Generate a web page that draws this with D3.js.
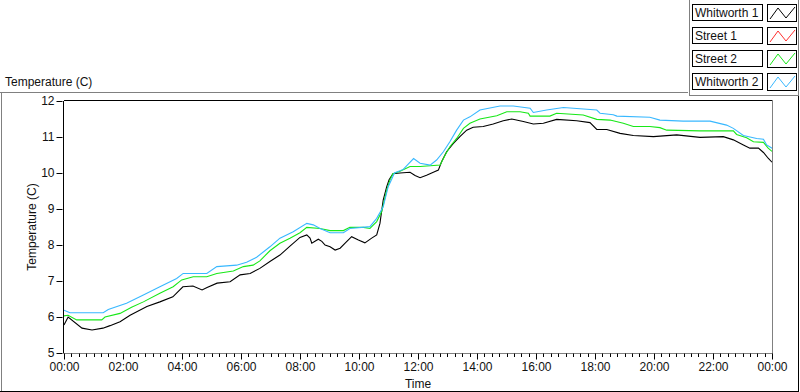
<!DOCTYPE html>
<html>
<head>
<meta charset="utf-8">
<script src="https://cdn.jsdelivr.net/npm/d3@7"></script>
<style>
  body { margin: 0; background: #fff; }
  text { font-family: "Liberation Sans", Arial, sans-serif; font-size: 12px; fill: #111; }
</style>
</head>
<body>
<script>
// series names and colours (legend order)
var seriesNames = ["Whitworth 1", "Street 1", "Street 2", "Whitworth 2"];
var seriesColors = ["#000000", "#ff3030", "#18e818", "#38b8ff"];

// time in hours since midnight, temperature in C
var whitworth1Time = [0, 0.14, 0.61, 0.95, 1.32, 1.56, 1.9, 2.24, 2.81, 3.25, 3.69, 4.03, 4.37, 4.68, 4.85,
  5.19, 5.63, 5.97, 6.31, 6.64, 6.98, 7.32, 7.66, 8.0, 8.23, 8.34, 8.4, 8.62, 8.74, 8.85, 9.02, 9.19, 9.36,
  9.53, 9.75, 9.98, 10.2, 10.43, 10.6, 10.71, 10.82, 10.94, 11.02, 11.15, 11.39, 11.73, 11.9, 12.07, 12.29,
  12.52, 12.69, 12.8, 12.97, 13.2, 13.42, 13.65, 13.87, 14.21, 14.55, 14.89, 15.18, 15.57, 15.91, 16.25,
  16.7, 17.38, 17.83, 18.06, 18.4, 18.85, 19.3, 19.98, 20.77, 21.56, 22.35, 22.69, 23.03, 23.25, 23.54,
  23.71, 23.87, 24];
var whitworth1Temp = [5.78, 6.0, 5.69, 5.64, 5.69, 5.76, 5.87, 6.05, 6.29, 6.42, 6.56, 6.84, 6.86, 6.75, 6.82,
  6.94, 6.98, 7.17, 7.21, 7.35, 7.54, 7.72, 7.97, 8.21, 8.28, 8.19, 8.05, 8.16, 8.1, 8.0, 7.95, 7.86, 7.91,
  8.05, 8.23, 8.14, 8.06, 8.19, 8.28, 8.6, 9.25, 9.62, 9.81, 9.98, 10.0, 10.02, 9.93, 9.87, 9.94,
  10.02, 10.08, 10.31, 10.59, 10.82, 11.01, 11.19, 11.27, 11.29, 11.36, 11.45, 11.5, 11.43, 11.36, 11.38,
  11.49, 11.45, 11.4, 11.21, 11.21, 11.1, 11.04, 11.01, 11.06, 10.99, 11.01, 10.92, 10.78, 10.69, 10.69,
  10.57, 10.41, 10.3];

var street2Time = [0, 0.14, 0.43, 1.28, 1.39, 1.9, 2.29, 2.69, 3.25, 3.7, 3.99, 4.38, 4.84, 5.18, 5.74,
  6.08, 6.41, 6.64, 6.98, 7.32, 7.66, 8.0, 8.23, 8.68, 9.02, 9.47, 9.69, 10.15, 10.37, 10.6, 10.77, 10.94,
  11.05, 11.15, 11.39, 11.73, 12.07, 12.75, 12.92, 13.08, 13.31, 13.54, 13.76, 14.1, 14.67, 15.01, 15.46,
  15.74, 15.8, 16.47, 16.7, 17.6, 18.06, 18.51, 18.96, 19.3, 19.86, 20.2, 20.43, 21.56, 22.69, 22.8,
  23.14, 23.37, 23.71, 23.87, 24];
var street2Temp = [6.03, 6.05, 5.92, 5.92, 6.0, 6.1, 6.27, 6.42, 6.66, 6.84, 7.03, 7.12, 7.12, 7.21, 7.28,
  7.4, 7.44, 7.56, 7.84, 8.05, 8.19, 8.34, 8.49, 8.46, 8.4, 8.4, 8.49, 8.49, 8.46, 8.65, 8.93, 9.53,
  9.81, 9.98, 10.05, 10.18, 10.18, 10.22, 10.5, 10.73, 10.96, 11.24, 11.38, 11.5, 11.59, 11.7, 11.7,
  11.66, 11.58, 11.58, 11.66, 11.61, 11.49, 11.47, 11.38, 11.29, 11.29, 11.26, 11.19, 11.17, 11.17, 11.07,
  10.98, 10.87, 10.85, 10.69, 10.6];

var whitworth2Time = [0, 0.2, 1.33, 1.5, 2.12, 2.69, 3.25, 3.82, 4.04, 4.84, 5.18, 5.85, 6.19, 6.53, 6.98,
  7.32, 7.77, 8.23, 8.45, 8.68, 9.02, 9.47, 9.69, 10.37, 10.6, 10.82, 10.99, 11.1, 11.2, 11.5, 11.85,
  12.07, 12.41, 12.63, 12.86, 13.08, 13.31, 13.54, 13.76, 14.1, 14.78, 15.23, 15.8, 15.91, 16.36, 16.93,
  18.06, 18.17, 18.62, 18.74, 19.86, 20.2, 20.99, 21.9, 22.46, 22.69, 23.03, 23.48, 23.71, 23.82, 24];
var whitworth2Temp = [6.19, 6.12, 6.12, 6.21, 6.38, 6.61, 6.84, 7.07, 7.21, 7.21, 7.4, 7.44, 7.52, 7.66, 7.95,
  8.19, 8.37, 8.6, 8.56, 8.46, 8.34, 8.34, 8.46, 8.51, 8.74, 9.06, 9.62, 9.81, 10.0, 10.1, 10.4,
  10.27, 10.22, 10.36, 10.59, 10.87, 11.19, 11.47, 11.56, 11.75, 11.86, 11.86, 11.8, 11.68, 11.75, 11.82,
  11.75, 11.66, 11.62, 11.58, 11.55, 11.47, 11.44, 11.44, 11.33, 11.24, 11.04, 10.96, 10.94, 10.78, 10.69];

var yTicks = [5, 6, 7, 8, 9, 10, 11, 12];
var xTickLabels = ["00:00", "02:00", "04:00", "06:00", "08:00", "10:00", "12:00",
  "14:00", "16:00", "18:00", "20:00", "22:00", "00:00"];

var width = 800, height = 392;
var plot = {left: 64, top: 101, right: 772, bottom: 353};

var svg = d3.select("body").append("svg")
  .attr("width", width)
  .attr("height", height);

var x = d3.scaleLinear().domain([0, 24]).range([plot.left, plot.right]);
var y = d3.scaleLinear().domain([5, 12]).range([plot.bottom, plot.top]);

//panel frame
var frame = svg.append("g").attr("shape-rendering", "crispEdges");
frame.append("line").attr("x1", 0).attr("x2", 688).attr("y1", 92.5).attr("y2", 92.5).attr("stroke", "#808080");
frame.append("line").attr("x1", 1.5).attr("x2", 1.5).attr("y1", 92).attr("y2", 392).attr("stroke", "#808080");
frame.append("line").attr("x1", 0).attr("x2", 799).attr("y1", 391.5).attr("y2", 391.5).attr("stroke", "#000");
frame.append("line").attr("x1", 798.5).attr("x2", 798.5).attr("y1", 96).attr("y2", 392).attr("stroke", "#000");
frame.append("line").attr("x1", 689.5).attr("x2", 689.5).attr("y1", 0).attr("y2", 95).attr("stroke", "#808080");
frame.append("line").attr("x1", 689).attr("x2", 799).attr("y1", 95.5).attr("y2", 95.5).attr("stroke", "#808080");
frame.append("line").attr("x1", 798.5).attr("x2", 798.5).attr("y1", 0).attr("y2", 96).attr("stroke", "#808080");

svg.append("text").attr("x", 5).attr("y", 86).text("Temperature (C)");

//plot area
svg.append("rect")
  .attr("x", plot.left).attr("y", plot.top)
  .attr("width", plot.right - plot.left).attr("height", plot.bottom - plot.top)
  .attr("fill", "#fff");

//series lines
var line = d3.line()
  .x(function(d) { return x(d[0]); })
  .y(function(d) { return y(d[1]); });

var series = [
  {times: whitworth1Time, temps: whitworth1Temp, color: seriesColors[0]},
  {times: street2Time, temps: street2Temp, color: seriesColors[2]},
  {times: whitworth2Time, temps: whitworth2Temp, color: seriesColors[3]}
];

svg.append("defs").append("clipPath").attr("id", "clip")
  .append("rect")
  .attr("x", plot.left).attr("y", plot.top)
  .attr("width", plot.right - plot.left).attr("height", plot.bottom - plot.top);

svg.append("g").attr("clip-path", "url(#clip)")
  .selectAll("path")
  .data(series)
  .enter().append("path")
  .attr("d", function(s) { return line(d3.zip(s.times, s.temps)); })
  .attr("fill", "none")
  .attr("stroke", function(s) { return s.color; })
  .attr("stroke-width", 1.1);

//plot border: dark top/left, grey bottom/right
var border = svg.append("g").attr("shape-rendering", "crispEdges");
border.append("line").attr("x1", plot.left - 0.5).attr("x2", plot.right).attr("y1", plot.top - 0.5).attr("y2", plot.top - 0.5).attr("stroke", "#000");
border.append("line").attr("x1", plot.left - 0.5).attr("x2", plot.left - 0.5).attr("y1", plot.top).attr("y2", plot.bottom).attr("stroke", "#000");
border.append("line").attr("x1", plot.right + 0.5).attr("x2", plot.right + 0.5).attr("y1", plot.top - 1).attr("y2", plot.bottom + 1).attr("stroke", "#808080");

//x axis
var xAxis = d3.axisBottom(x)
  .tickValues(d3.range(0, 25, 2))
  .tickFormat(function(d, i) { return xTickLabels[i]; })
  .tickSize(6)
  .tickPadding(3);
var gx = svg.append("g")
  .attr("transform", "translate(0," + (plot.bottom + 0.5) + ")")
  .call(xAxis);
gx.select(".domain").attr("stroke", "#808080").attr("d", "M" + (plot.left - 1) + ",0H" + (plot.right + 1));
gx.selectAll(".tick line").attr("stroke", "#000");
gx.selectAll("text").style("font-family", "Liberation Sans, Arial, sans-serif").style("font-size", "12px").attr("fill", "#111");

//minor ticks every 15 minutes
gx.selectAll(".minor")
  .data(d3.range(0, 24 * 4 + 1).filter(function(i) { return i % 8 != 0; }))
  .enter().append("line")
  .attr("class", "minor")
  .attr("x1", function(i) { return Math.round(x(i / 4)) + 0.5; })
  .attr("x2", function(i) { return Math.round(x(i / 4)) + 0.5; })
  .attr("y1", 0).attr("y2", 3.5)
  .attr("stroke", "#000");

svg.append("text")
  .attr("x", (plot.left + plot.right) / 2)
  .attr("y", 388)
  .attr("text-anchor", "middle")
  .text("Time");

//y axis
var yAxis = d3.axisLeft(y).tickValues(yTicks).tickFormat(d3.format("d")).tickSize(6).tickPadding(2);
var gy = svg.append("g")
  .attr("transform", "translate(" + (plot.left - 1.5) + ",0)")
  .call(yAxis);
gy.select(".domain").remove();
gy.selectAll(".tick line").attr("stroke", "#000");
gy.selectAll("text").style("font-family", "Liberation Sans, Arial, sans-serif").style("font-size", "12px").attr("fill", "#111");

svg.append("text")
  .attr("transform", "translate(36," + ((plot.top + plot.bottom) / 2) + ") rotate(-90)")
  .attr("text-anchor", "middle")
  .attr("fill", "#300")
  .text("Temperature (C)");

//legend
var legend = svg.append("g").selectAll("g")
  .data(seriesNames)
  .enter().append("g")
  .attr("transform", function(d, i) { return "translate(0," + (i * 23) + ")"; });

legend.append("rect")
  .attr("x", 692.5).attr("y", 4.5).attr("width", 70).attr("height", 16)
  .attr("fill", "#fff").attr("stroke", "#000")
  .attr("shape-rendering", "crispEdges");
legend.append("text")
  .attr("x", 695).attr("y", 17)
  .text(function(d) { return d; });
legend.append("rect")
  .attr("x", 767.5).attr("y", 4.5).attr("width", 29).attr("height", 17)
  .attr("fill", "#fff").attr("stroke", "#000")
  .attr("shape-rendering", "crispEdges");
legend.append("path")
  .attr("d", "M770,19L778,8L786,18L795,7")
  .attr("fill", "none")
  .attr("stroke", function(d, i) { return seriesColors[i]; })
  .attr("stroke-width", 1);
</script>
</body>
</html>
